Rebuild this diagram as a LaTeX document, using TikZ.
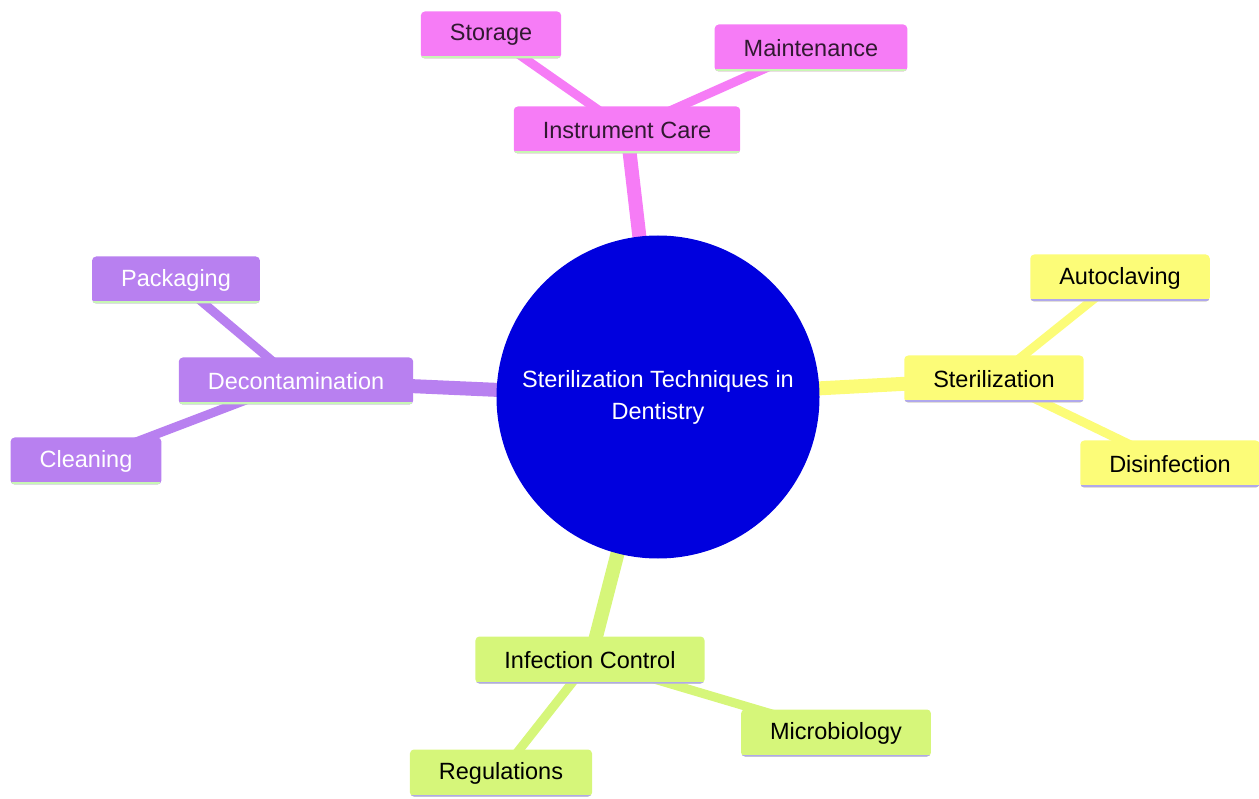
\documentclass[tikz,border=0pt]{standalone}
\usepackage{fontspec}
\setmainfont{Liberation Sans}
\usetikzlibrary{backgrounds}
\definecolor{pinkbr}{RGB}{246,124,246}
\definecolor{purplebr}{RGB}{184,128,240}
\definecolor{yellowbr}{RGB}{252,252,120}
\definecolor{greenbr}{RGB}{214,246,122}
\definecolor{rootblue}{RGB}{0,0,222}
\definecolor{lineg}{RGB}{200,246,180}
\definecolor{linel}{RGB}{176,168,236}
\begin{document}
\begin{tikzpicture}[
        x=1pt, y=-1pt,
        font=\fontsize{23.5}{28}\selectfont,
        leaf/.style={rounded corners=4pt, minimum height=47pt, inner xsep=29pt, inner ysep=0pt},
        pinknode/.style={leaf, fill=pinkbr, text=black!80!pinkbr,
            path picture={\draw[lineg, line width=4pt] (path picture bounding box.south west) -- (path picture bounding box.south east);}},
        purplenode/.style={leaf, fill=purplebr, text=white,
            path picture={\draw[lineg, line width=4pt] (path picture bounding box.south west) -- (path picture bounding box.south east);}},
        yellownode/.style={leaf, fill=yellowbr, text=black,
            path picture={\draw[linel, line width=4pt] (path picture bounding box.south west) -- (path picture bounding box.south east);}},
        greennode/.style={leaf, fill=greenbr, text=black,
            path picture={\draw[linel, line width=4pt] (path picture bounding box.south west) -- (path picture bounding box.south east);}},
        mainedge/.style={line width=14pt},
        subedge/.style={line width=9pt}
    ]
    \useasboundingbox (0,0) rectangle (1259,799);

    % root
    \node[circle, fill=rootblue, text=white, minimum size=323pt, align=center, inner sep=0pt]
        (root) at (658,397) {Sterilization Techniques in\\[4pt]Dentistry};

    % --- Instrument Care ---
    \node[pinknode] (care) at (627,130) {Instrument Care};
    \node[pinknode] (storage) at (491,35) {Storage};
    \node[pinknode] (maint) at (811,48) {Maintenance};

    % --- Decontamination ---
    \node[purplenode] (decon) at (296,381) {Decontamination};
    \node[purplenode] (pack) at (176,280) {Packaging};
    \node[purplenode] (clean) at (86,461) {Cleaning};

    % --- Sterilization ---
    \node[yellownode] (steril) at (994,379) {Sterilization};
    \node[yellownode] (auto) at (1120,278) {Autoclaving};
    \node[yellownode] (disinf) at (1170,464) {Disinfection};

    % --- Infection Control ---
    \node[greennode] (infect) at (590,660) {Infection Control};
    \node[greennode] (micro) at (836,733) {Microbiology};
    \node[greennode] (regul) at (501,773) {Regulations};

    % edges behind nodes
    \begin{scope}[on background layer]
        \draw[mainedge, pinkbr] (root.center) -- (care.center);
        \draw[subedge, pinkbr] (care.center) -- (storage.center);
        \draw[subedge, pinkbr] (care.center) -- (maint.center);
        \draw[mainedge, purplebr] (root.center) -- (decon.center);
        \draw[subedge, purplebr] (decon.center) -- (pack.center);
        \draw[subedge, purplebr] (decon.center) -- (clean.center);
        \draw[mainedge, yellowbr] (root.center) -- (steril.center);
        \draw[subedge, yellowbr] (steril.center) -- (auto.center);
        \draw[subedge, yellowbr] (steril.center) -- (disinf.center);
        \draw[mainedge, greenbr] (root.center) -- (infect.center);
        \draw[subedge, greenbr] (infect.center) -- (micro.center);
        \draw[subedge, greenbr] (infect.center) -- (regul.center);
    \end{scope}
\end{tikzpicture}
\end{document}
